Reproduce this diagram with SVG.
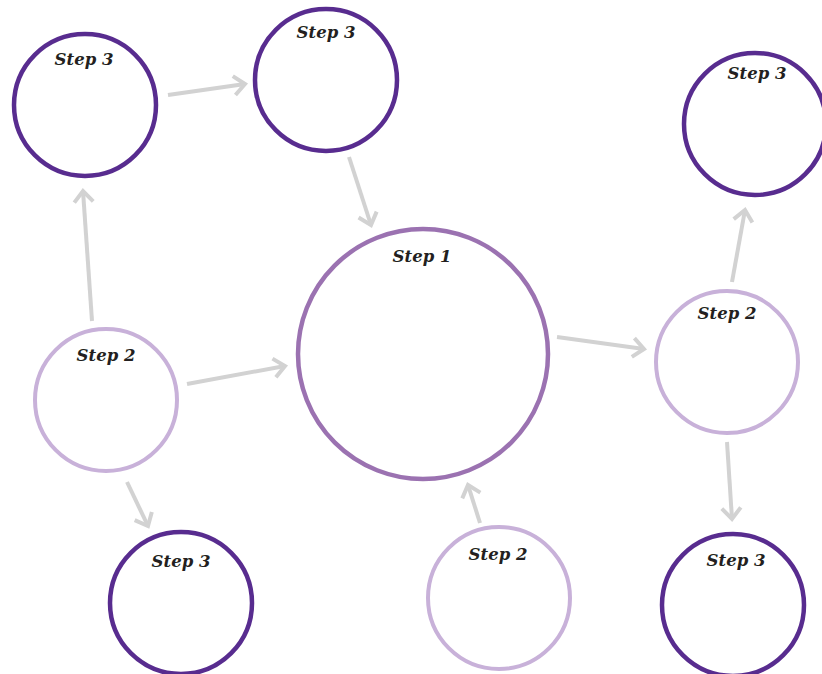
<svg xmlns="http://www.w3.org/2000/svg" width="822" height="674" viewBox="0 0 822 674">
<style>
.s1{fill:#ffffff;stroke:#9b72b1;stroke-width:4.5}
.s2{fill:#ffffff;stroke:#c8b1d9;stroke-width:4}
.s3{fill:#ffffff;stroke:#582c8f;stroke-width:4.5}
.lbl{font-family:"DejaVu Serif","Liberation Serif",serif;font-weight:bold;font-style:italic;font-size:16.5px;fill:#231f20;text-anchor:middle}
.arr{fill:none;stroke:#d2d2d2;stroke-width:4;marker-end:url(#ah)}
</style>
<defs>
<marker id="ah" markerUnits="userSpaceOnUse" markerWidth="30" markerHeight="30" viewBox="-15 -15 30 30" refX="0" refY="0" orient="auto">
<path d="M-11,-9.5 L0,0 L-11,9.5" fill="none" stroke="#d2d2d2" stroke-width="4"/>
</marker>
</defs>
<rect width="822" height="674" fill="#ffffff"/>
<g id="connectors">
<line class="arr" x1="168" y1="95" x2="245" y2="84"/>
<line class="arr" x1="349" y1="157" x2="371" y2="225"/>
<line class="arr" x1="92" y1="321" x2="83" y2="191"/>
<line class="arr" x1="187" y1="384" x2="285" y2="366"/>
<line class="arr" x1="127" y1="482" x2="148" y2="526"/>
<line class="arr" x1="557" y1="337" x2="644" y2="349"/>
<line class="arr" x1="732" y1="282" x2="745" y2="210"/>
<line class="arr" x1="727" y1="442" x2="732" y2="519"/>
<line class="arr" x1="480" y1="523" x2="468" y2="485"/>
</g>
<g id="step1">
<circle class="s1" cx="423" cy="354" r="125"/>
<text class="lbl" x="422" y="262">Step 1</text>
</g>
<g id="step2-left">
<circle class="s2" cx="106" cy="400" r="71"/>
<text class="lbl" x="106" y="361">Step 2</text>
</g>
<g id="step2-right">
<circle class="s2" cx="727" cy="362" r="71"/>
<text class="lbl" x="727" y="319">Step 2</text>
</g>
<g id="step2-bottom">
<circle class="s2" cx="499" cy="598" r="71"/>
<text class="lbl" x="498" y="560">Step 2</text>
</g>
<g id="step3-topleft">
<circle class="s3" cx="85" cy="105" r="71"/>
<text class="lbl" x="84" y="65">Step 3</text>
</g>
<g id="step3-topmid">
<circle class="s3" cx="326" cy="80" r="71"/>
<text class="lbl" x="326" y="38">Step 3</text>
</g>
<g id="step3-topright">
<circle class="s3" cx="755" cy="124" r="71"/>
<text class="lbl" x="757" y="79">Step 3</text>
</g>
<g id="step3-bottomleft">
<circle class="s3" cx="181" cy="603" r="71"/>
<text class="lbl" x="181" y="567">Step 3</text>
</g>
<g id="step3-bottomright">
<circle class="s3" cx="733" cy="605" r="71"/>
<text class="lbl" x="736" y="566">Step 3</text>
</g>
</svg>
